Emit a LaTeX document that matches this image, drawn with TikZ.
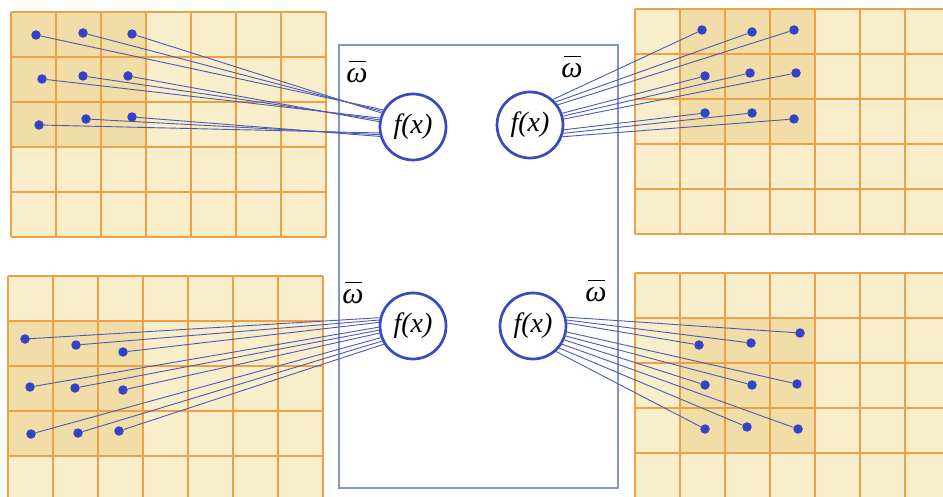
\documentclass[tikz,border=0pt]{standalone}
\usepackage{fontspec}
\setmainfont{Liberation Serif}
\definecolor{cream}{HTML}{F8EECB}
\definecolor{hot}{HTML}{F1DDA8}
\definecolor{gridorange}{HTML}{F0A044}
\definecolor{dotblue}{HTML}{3243C8}
\definecolor{linkblue}{HTML}{4B5AB5}
\definecolor{nblue}{HTML}{3A49C0}
\definecolor{framec}{HTML}{8592CC}
% omega with a bar over it
\newcommand\wbar{\rlap{\hspace{0.1em}\rule[0.68em]{0.55em}{0.055em}}ω}
\tikzset{
  gridline/.style={draw=gridorange, line width=1.4pt},
  neuron/.style={circle, draw=nblue, line width=2.7pt, fill=white,
    minimum size=66pt, inner sep=0pt, font=\fontsize{28}{30}\selectfont\itshape},
  pix/.style={circle, fill=dotblue, minimum size=9.5pt, inner sep=0pt},
  link/.style={draw=linkblue, line width=0.9pt},
  weight/.style={inner sep=0pt, font=\fontsize{30}{32}\selectfont\itshape},
  frame/.style={draw=framec, line width=1.3pt}
}
% feature map: #1,#2 top-left corner, #3,#4 first highlighted column and row
\newcommand\featuremap[4]{%
  \fill[cream] (#1,#2) rectangle ++(315,225);
  \fill[hot] ({#1+45*#3},{#2+45*#4}) rectangle ++(135,135);
  \foreach \i in {0,...,7} \draw[gridline] ({#1+45*\i},#2) -- ++(0,225);
  \foreach \j in {0,...,5} \draw[gridline] (#1,{#2+45*\j}) -- ++(315,0);
}
\begin{document}
\begin{tikzpicture}[x=1pt,y=-1pt]
\useasboundingbox (0,0) rectangle (943,497);
\clip (0,0) rectangle (943,497);
\fill[white] (0,0) rectangle (943,497);

% the four feature maps
\featuremap{11}{12}{0}{0}
\featuremap{635}{9}{1}{0}
\featuremap{8}{276}{0}{1}
\featuremap{635}{273}{1}{1}

% layer frame
\draw[frame] (339,45) rectangle (618,488);

% neurons
\node[neuron] (ctl) at (413,127) {f(x)};
\node[neuron] (ctr) at (530,125) {f(x)};
\node[neuron] (cbl) at (413,326) {f(x)};
\node[neuron] (cbr) at (533,326) {f(x)};

% shared weights
\node[weight] (wtl) at (357,72) {\wbar};
\node[weight] (wtr) at (572,67) {\wbar};
\node[weight] (wbl) at (353,293) {\wbar};
\node[weight] (wbr) at (596,291) {\wbar};

% receptive fields and their connections
\foreach \x/\y/\a [count=\k] in {36/35/150, 83/33/153, 132/34/156,
    42/79/165, 83/76/168, 128/76/171, 39/125/190, 86/119/193, 132/117/196}{
  \node[pix] (tl\k) at (\x,\y) {};
  \draw[link] (tl\k) -- (ctl.\a);
}
\foreach \x/\y/\a [count=\k] in {702/30/48, 752/32/42, 794/30/36,
    705/76/20, 750/73/15, 796/73/10, 705/113/-8, 752/113/-14, 794/119/-20}{
  \node[pix] (tr\k) at (\x,\y) {};
  \draw[link] (tr\k) -- (ctr.\a);
}
\foreach \x/\y/\a [count=\k] in {25/339/166, 76/345/170, 123/352/174,
    30/387/182, 75/388/187, 123/390/192, 31/434/200, 78/433/206, 119/431/212}{
  \node[pix] (bl\k) at (\x,\y) {};
  \draw[link] (bl\k) -- (cbl.\a);
}
\foreach \x/\y/\a [count=\k] in {800/333/15, 751/343/10, 699/345/5,
    797/384/-10, 752/385/-17, 705/385/-24, 798/429/-32, 747/427/-40, 705/429/-48}{
  \node[pix] (br\k) at (\x,\y) {};
  \draw[link] (br\k) -- (cbr.\a);
}
\end{tikzpicture}
\end{document}
